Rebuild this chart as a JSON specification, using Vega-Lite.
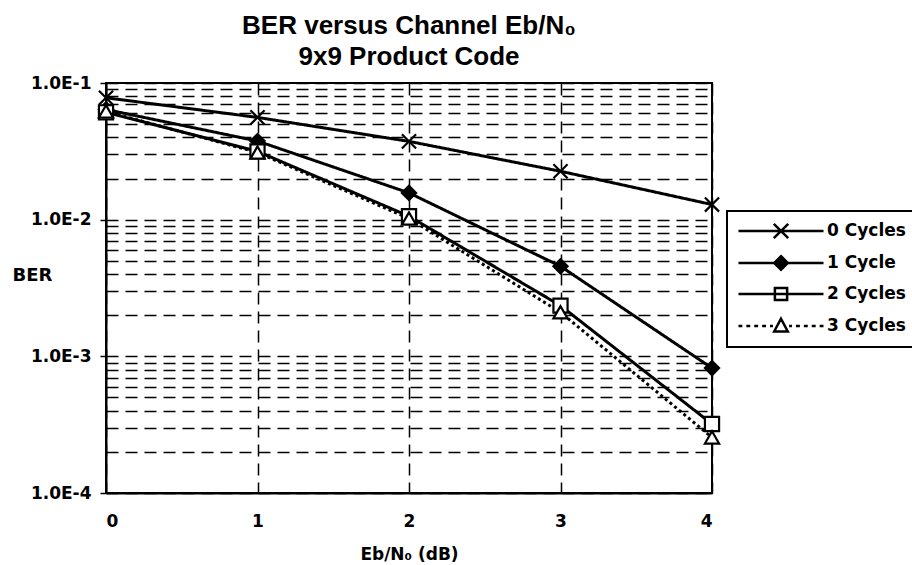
{
  "$schema": "https://vega.github.io/schema/vega-lite/v6.json",
  "width": 606,
  "height": 410,
  "padding": {"left": 12, "top": 13, "right": 0, "bottom": 0},
  "background": "white",
  "config": {
    "font": "DejaVu Sans",
    "view": {"stroke": "black", "strokeWidth": 2},
    "legend": {
      "strokeColor": "black", "strokeWidth": 2, "fillColor": "white",
      "labelFont": "DejaVu Sans", "labelFontSize": 17, "labelFontWeight": "bold", "labelColor": "black",
      "symbolSize": 289, "symbolStrokeColor": "black", "symbolStrokeWidth": 2.5, "symbolOpacity": 1,
      "symbolOffset": 34, "labelOffset": 36, "rowPadding": 7, "padding": 10
    },
    "axis": {"labelFont": "DejaVu Sans", "titleFont": "DejaVu Sans", "labelFontWeight": "bold", "titleFontWeight": "bold", "labelColor": "black", "titleColor": "black", "labelFontSize": 17, "titleFontSize": 17}
  },
  "title": {
    "text": "BER versus Channel Eb/N₀",
    "subtitle": "9x9 Product Code",
    "font": "Liberation Sans",
    "subtitleFont": "Liberation Sans",
    "fontSize": 26,
    "subtitleFontSize": 26,
    "fontWeight": "bold",
    "subtitleFontWeight": "bold",
    "color": "black",
    "subtitleColor": "black",
    "anchor": "middle",
    "frame": "group",
    "subtitlePadding": 5,
    "offset": 4
  },
  "data": {
    "values": [
      {"x": 0, "ber": 0.078, "series": "0 Cycles"},
      {"x": 1, "ber": 0.056, "series": "0 Cycles"},
      {"x": 2, "ber": 0.0374, "series": "0 Cycles"},
      {"x": 3, "ber": 0.0226, "series": "0 Cycles"},
      {"x": 4, "ber": 0.0129, "series": "0 Cycles"},
      {"x": 0, "ber": 0.064, "series": "1 Cycle"},
      {"x": 1, "ber": 0.0376, "series": "1 Cycle"},
      {"x": 2, "ber": 0.0157, "series": "1 Cycle"},
      {"x": 3, "ber": 0.00456, "series": "1 Cycle"},
      {"x": 4, "ber": 0.00082, "series": "1 Cycle"},
      {"x": 0, "ber": 0.061, "series": "2 Cycles"},
      {"x": 1, "ber": 0.0316, "series": "2 Cycles"},
      {"x": 2, "ber": 0.0106, "series": "2 Cycles"},
      {"x": 3, "ber": 0.00235, "series": "2 Cycles"},
      {"x": 4, "ber": 0.00032, "series": "2 Cycles"},
      {"x": 0, "ber": 0.062, "series": "3 Cycles"},
      {"x": 1, "ber": 0.031, "series": "3 Cycles"},
      {"x": 2, "ber": 0.0102, "series": "3 Cycles"},
      {"x": 3, "ber": 0.0021, "series": "3 Cycles"},
      {"x": 4, "ber": 0.000255, "series": "3 Cycles"}
    ]
  },
  "encoding": {
    "x": {
      "field": "x", "type": "quantitative",
      "scale": {"domain": [0, 4], "nice": false, "zero": false},
      "axis": {
        "title": "Eb/N₀ (dB)",
        "values": [0, 1, 2, 3, 4],
        "format": "d",
        "grid": true, "gridColor": "black", "gridDash": [12, 7], "gridWidth": 1.5, "gridOpacity": 1,
        "ticks": false, "domainColor": "black", "domainWidth": 2,
        "labelPadding": 20, "titlePadding": 17
      }
    },
    "y": {
      "field": "ber", "type": "quantitative",
      "scale": {"type": "log", "domain": [0.0001, 0.1], "nice": false},
      "axis": {
        "title": "BER",
        "titleFontSize": 18,
        "titleAngle": 0, "titleAlign": "left", "titleBaseline": "middle", "titleX": -94, "titleY": 192,
        "values": [0.0001, 0.0002, 0.0003, 0.0004, 0.0005, 0.0006, 0.0007, 0.0008, 0.0009, 0.001, 0.002, 0.003, 0.004, 0.005, 0.006, 0.007, 0.008, 0.009, 0.01, 0.02, 0.03, 0.04, 0.05, 0.06, 0.07, 0.08, 0.09, 0.1],
        "labelExpr": "abs(log(datum.value)/LN10 - round(log(datum.value)/LN10)) < 0.01 ? upper(format(datum.value, '.1e')) : ''",
        "grid": true, "gridColor": "black", "gridDash": [12, 7], "gridWidth": 1.5, "gridOpacity": 1,
        "ticks": true, "tickColor": "black", "tickWidth": 1.5, "tickSize": 6,
        "tickOpacity": {"condition": {"test": "abs(log(datum.value)/LN10 - round(log(datum.value)/LN10)) < 0.01", "value": 1}, "value": 0},
        "domainColor": "black", "domainWidth": 2,
        "labelPadding": 9
      }
    }
  },
  "layer": [
    {
      "mark": {"type": "line", "color": "black", "strokeWidth": 3},
      "encoding": {
        "strokeDash": {
          "field": "series", "type": "nominal",
          "scale": {"domain": ["0 Cycles", "1 Cycle", "2 Cycles", "3 Cycles"], "range": [[1, 0], [1, 0], [1, 0], [3, 3]]},
          "legend": null
        }
      }
    },
    {
      "mark": {"type": "point", "filled": true, "stroke": "black", "strokeWidth": 2.2, "size": 200, "opacity": 1},
      "encoding": {
        "shape": {
          "field": "series", "type": "nominal",
          "scale": {"domain": ["0 Cycles", "1 Cycle", "2 Cycles", "3 Cycles"], "range": ["M-1,-1L1,1M-1,1L1,-1", "diamond", "square", "triangle-up"]},
          "legend": null
        },
        "fill": {
          "field": "series", "type": "nominal",
          "scale": {"domain": ["0 Cycles", "1 Cycle", "2 Cycles", "3 Cycles"], "range": ["black", "black", "white", "white"]},
          "legend": null
        }
      }
    },
    {
      "transform": [{"filter": "datum.x > 100"}],
      "mark": {"type": "point", "filled": true, "stroke": "black", "strokeWidth": 2.5, "size": 289},
      "encoding": {
        "shape": {
          "field": "series", "type": "nominal",
          "scale": {"domain": ["0 Cycles", "1 Cycle", "2 Cycles", "3 Cycles"], "range": [
            "M-5,0H5M-0.85,-0.85L0.85,0.85M-0.85,0.85L0.85,-0.85",
            "M-5,0H5M0,-0.8L0.8,0L0,0.8L-0.8,0Z",
            "M-5,0H5M-0.72,-0.72H0.72V0.72H-0.72Z",
            "M-5,0H-4.55M-4.08,0H-3.62M-3.15,0H-2.69M-2.22,0H-1.76M-1.29,0H-0.95M0.95,0H1.29M1.76,0H2.22M2.69,0H3.15M3.62,0H4.08M4.55,0H5M0,-0.85L0.8,0.65H-0.8Z"
          ]},
          "legend": {
            "title": null, "orient": "none", "legendX": 621, "legendY": 128, "direction": "vertical",
            "encode": {"symbols": {"update": {"stroke": {"value": "black"}, "strokeWidth": {"value": 2.5}, "opacity": {"value": 1}, "strokeOpacity": {"value": 1}}}}
          }
        },
        "fill": {
          "field": "series", "type": "nominal",
          "scale": {"domain": ["0 Cycles", "1 Cycle", "2 Cycles", "3 Cycles"], "range": ["black", "black", "transparent", "white"]},
          "legend": {
            "title": null, "orient": "none", "legendX": 621, "legendY": 128, "direction": "vertical",
            "encode": {"symbols": {"update": {"stroke": {"value": "black"}, "strokeWidth": {"value": 2.5}, "opacity": {"value": 1}, "strokeOpacity": {"value": 1}}}}
          }
        }
      }
    }
  ],
  "resolve": {"scale": {"shape": "independent", "fill": "independent", "strokeDash": "independent"}}
}
